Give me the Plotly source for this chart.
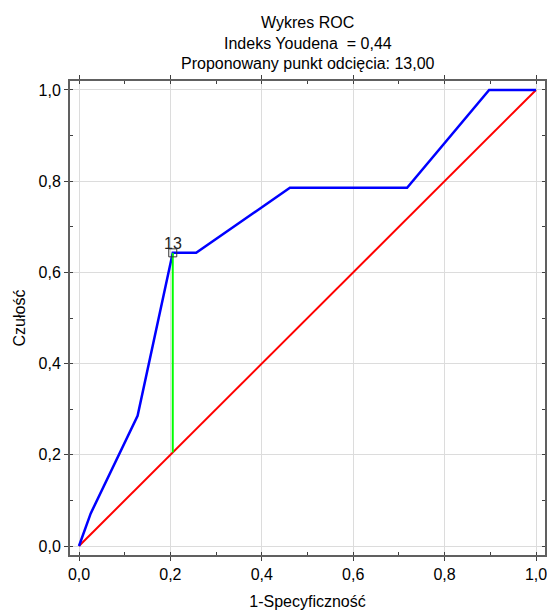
import plotly.graph_objects as go

fpr = [0.0, 1/39, 5/39, 8/39, 10/39, 18/39, 28/39, 35/39, 1.0]
tpr = [0.0, 1/14, 4/14, 9/14, 9/14, 11/14, 11/14, 1.0, 1.0]
diag_x = [0.0, 1.0]
diag_y = [0.0, 1.0]
cut_x = 8/39
cut_y = 9/14
cut_label = "13"
title_lines = ["Wykres ROC", "Indeks Youdena  = 0,44", "Proponowany punkt odcięcia: 13,00"]
ticks = [0.0, 0.2, 0.4, 0.6, 0.8, 1.0]

FONT = "Liberation Sans, Arial, sans-serif"
W, H = 547, 610
ML, MR, MT, MB = 70, 2, 81, 55

fig = go.Figure()
fig.add_trace(go.Scatter(x=diag_x, y=diag_y, mode="lines",
                         line=dict(color="#ff0000", width=2), showlegend=False))
fig.add_trace(go.Scatter(x=fpr, y=tpr, mode="lines",
                         line=dict(color="#0000ff", width=2.5), showlegend=False))
fig.add_trace(go.Scatter(x=[cut_x, cut_x], y=[cut_x, cut_y], mode="lines",
                         line=dict(color="#00ff00", width=2), showlegend=False))
fig.add_trace(go.Scatter(x=[cut_x], y=[cut_y], mode="markers",
                         marker=dict(symbol="square-open", size=8, color="#333333", line=dict(width=1)),
                         showlegend=False))
fig.add_annotation(x=cut_x, y=cut_y, xref="x", yref="y", text=cut_label, showarrow=False,
                   yanchor="bottom", yshift=-1, font=dict(family=FONT, size=16, color="#222222"))

axis_common = dict(
    tickvals=ticks, tickformat=".1f", showgrid=True, gridcolor="#dcdcdc", gridwidth=1,
    zeroline=False, showline=True, linecolor="#606060", linewidth=2, mirror="ticks",
    ticks="outside", ticklen=4, tickcolor="#404040", tickwidth=1, automargin=False,
    ticklabeloverflow="allow",
    tickfont=dict(family=FONT, size=16, color="black"),
    minor=dict(ticks="inside", ticklen=3, dtick=0.1, tickcolor="#404040", showgrid=False),
)

fig.update_layout(
    width=W, height=H,
    margin=dict(l=ML, r=MR, t=MT, b=MB),
    plot_bgcolor="white", paper_bgcolor="white",
    separators=", ",
    font=dict(family=FONT, size=16, color="black"),
    xaxis=dict(range=[-0.0197, 1.0197], title=dict(text="1-Specyficzność", standoff=14,
               font=dict(size=16)), **axis_common),
    yaxis=dict(range=[-0.0197, 1.0197], title=dict(text="Czułość", standoff=9,
               font=dict(size=16)), **axis_common),
)
plot_h = H - MT - MB
for i, yc in enumerate([22, 43, 63]):
    fig.add_annotation(text=title_lines[i], xref="paper", yref="paper", x=0.5,
                       y=(H - MB - yc) / plot_h, yanchor="middle", showarrow=False,
                       font=dict(family=FONT, size=16, color="black"))

fig.write_html("out.html", config={"displayModeBar": False, "responsive": False},
               post_script="document.body.style.margin='0';")
